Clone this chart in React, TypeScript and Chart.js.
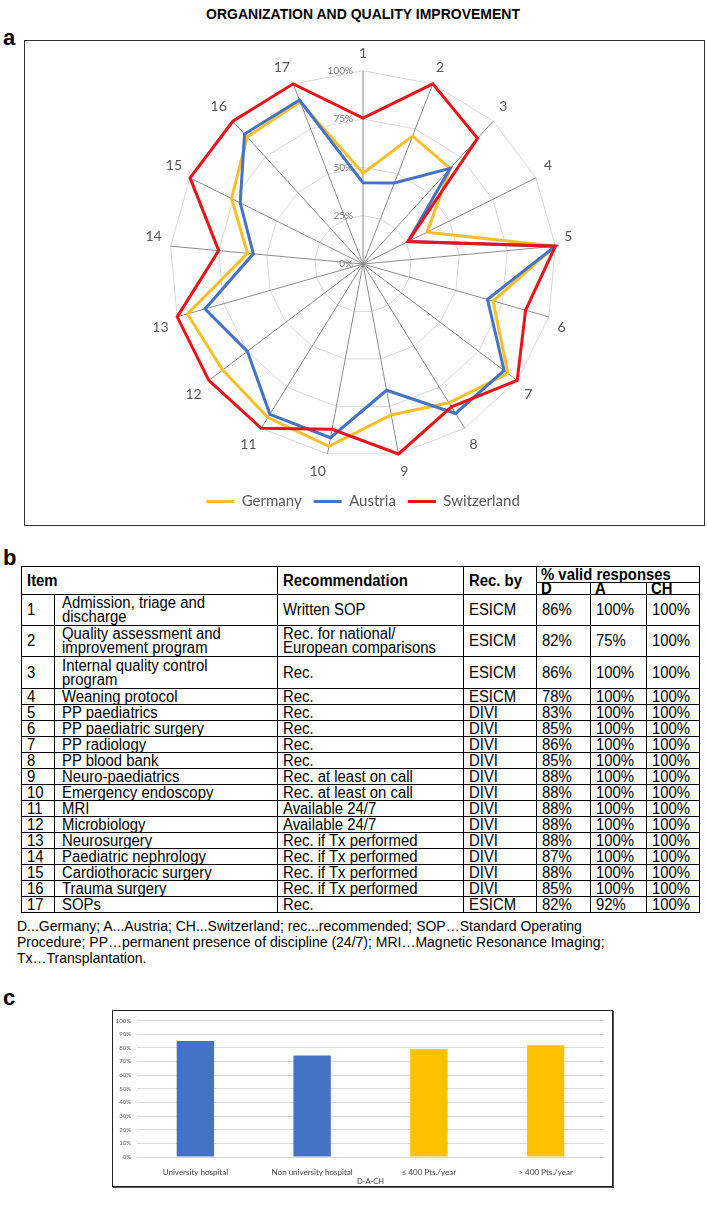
import React, { useEffect, useRef } from "react";
import { Chart, registerables } from "chart.js";

Chart.register(...registerables);

// ---------- Panel a: radar ----------
const axisLabels = ["1", "2", "3", "4", "5", "6", "7", "8", "9", "10", "11", "12", "13", "14", "15", "16", "17"];
const germany = [47, 71, 67, 37, 100, 70, 94, 84.5, 79.5, 96, 93.5, 91, 94.5, 60, 76, 89, 90];
const austria = [42, 45, 67, 26, 100, 67, 91.5, 91, 66.5, 91.5, 91.5, 75, 85, 57, 71, 91, 91];
const switzerland = [75.5, 100, 88, 26, 100, 87.5, 100, 87, 100, 87, 100, 100, 100, 75, 100, 100, 100];
const radarTicks = [0, 25, 50, 75, 100];

// ---------- Panel b: table ----------
const tableNums = ["1", "2", "3", "4", "5", "6", "7", "8", "9", "10", "11", "12", "13", "14", "15", "16", "17"];
const tableItems = [
  "Admission, triage and\ndischarge",
  "Quality assessment and\nimprovement program",
  "Internal quality control\nprogram",
  "Weaning protocol",
  "PP paediatrics",
  "PP paediatric surgery",
  "PP radiology",
  "PP blood bank",
  "Neuro-paediatrics",
  "Emergency endoscopy",
  "MRI",
  "Microbiology",
  "Neurosurgery",
  "Paediatric nephrology",
  "Cardiothoracic surgery",
  "Trauma surgery",
  "SOPs",
];
const tableRecs = [
  "Written SOP",
  "Rec. for national/\nEuropean comparisons",
  "Rec.",
  "Rec.",
  "Rec.",
  "Rec.",
  "Rec.",
  "Rec.",
  "Rec. at least on call",
  "Rec. at least on call",
  "Available 24/7",
  "Available 24/7",
  "Rec. if Tx performed",
  "Rec. if Tx performed",
  "Rec. if Tx performed",
  "Rec. if Tx performed",
  "Rec.",
];
const tableBy = ["ESICM", "ESICM", "ESICM", "ESICM", "DIVI", "DIVI", "DIVI", "DIVI", "DIVI", "DIVI", "DIVI", "DIVI", "DIVI", "DIVI", "DIVI", "DIVI", "ESICM"];
const tableD = ["86%", "82%", "86%", "78%", "83%", "85%", "86%", "85%", "88%", "88%", "88%", "88%", "88%", "87%", "88%", "85%", "82%"];
const tableA = ["100%", "75%", "100%", "100%", "100%", "100%", "100%", "100%", "100%", "100%", "100%", "100%", "100%", "100%", "100%", "100%", "92%"];
const tableCH = ["100%", "100%", "100%", "100%", "100%", "100%", "100%", "100%", "100%", "100%", "100%", "100%", "100%", "100%", "100%", "100%", "100%"];
const footnoteLines = [
  "D...Germany; A...Austria; CH...Switzerland; rec...recommended; SOP\u2026Standard Operating",
  "Procedure; PP\u2026permanent presence of discipline (24/7); MRI\u2026Magnetic Resonance Imaging;",
  "Tx\u2026Transplantation.",
];

// ---------- Panel c: bars ----------
const barCategories = ["University hospital", "Non university hospital", "\u2264 400 Pts./year", "> 400 Pts./year"];
const barValues = [85, 74.5, 79, 82];
const barColors = ["#4472C4", "#4472C4", "#FFC000", "#FFC000"];
const barTitle = "D-A-CH";

const radarTickPlugin = {
  id: "radarTickLabels",
  beforeDatasetsDraw(chart: any) {
    const scale = chart.scales.r;
    const ctx = chart.ctx;
    ctx.save();
    ctx.font = "10px Lato";
    ctx.fillStyle = "#7f7f7f";
    ctx.textAlign = "right";
    ctx.textBaseline = "middle";
    radarTicks.forEach((v) => {
      const d = scale.getDistanceFromCenterForValue(v);
      ctx.fillText(v + "%", scale.xCenter - 10, scale.yCenter - d);
    });
    ctx.restore();
  },
};

function RadarChart() {
  const ref = useRef<HTMLCanvasElement>(null);
  useEffect(() => {
    const chart = new Chart(ref.current as HTMLCanvasElement, {
      type: "radar",
      data: {
        labels: axisLabels,
        datasets: [
          { label: "Germany", data: germany, borderColor: "#F9BE2A", backgroundColor: "#F9BE2A", borderWidth: 3, pointRadius: 0, fill: false, order: 3 },
          { label: "Austria", data: austria, borderColor: "#4472C4", backgroundColor: "#4472C4", borderWidth: 3, pointRadius: 0, fill: false, order: 2 },
          { label: "Switzerland", data: switzerland, borderColor: "#E8141C", backgroundColor: "#E8141C", borderWidth: 3, pointRadius: 0, fill: false, order: 1 },
        ],
      },
      options: {
        responsive: false,
        animation: false,
        layout: { padding: { top: 3, right: 3, bottom: 6, left: 0 } },
        elements: { line: { tension: 0, borderJoinStyle: "miter" } },
        plugins: {
          tooltip: { enabled: false },
          legend: {
            position: "bottom",
            labels: {
              usePointStyle: true,
              pointStyle: "line",
              pointStyleWidth: 28,
              color: "#595959",
              font: { family: "Lato", size: 15 },
              padding: 12,
              sort: (a: any, b: any) => a.datasetIndex - b.datasetIndex,
            },
          },
        },
        scales: {
          r: {
            min: 0,
            max: 100,
            ticks: { display: false, stepSize: 25 },
            grid: { color: "#d9d9d9", lineWidth: 1 },
            angleLines: { color: "#8c8c8c", lineWidth: 1 },
            pointLabels: { font: { family: "Lato", size: 14 }, color: "#595959", padding: 9 },
          },
        },
      },
      plugins: [radarTickPlugin],
    } as any);
    return () => chart.destroy();
  }, []);
  return (
    <canvas
      ref={ref}
      width={679}
      height={484}
      style={{ position: "absolute", left: 25, top: 41, width: 679, height: 484 }}
    />
  );
}

function BarChart() {
  const ref = useRef<HTMLCanvasElement>(null);
  useEffect(() => {
    const chart = new Chart(ref.current as HTMLCanvasElement, {
      type: "bar",
      data: {
        labels: barCategories,
        datasets: [
          { data: barValues, backgroundColor: barColors, barPercentage: 0.32, categoryPercentage: 1 },
        ],
      },
      options: {
        responsive: false,
        animation: false,
        layout: { padding: { top: 7, right: 8, bottom: 0, left: 0 } },
        plugins: { legend: { display: false }, tooltip: { enabled: false } },
        scales: {
          x: {
            grid: { display: false },
            border: { display: true, color: "#d9d9d9" },
            ticks: { font: { family: "Lato", size: 8 }, color: "#404040", padding: 3 },
            title: { display: true, text: barTitle, font: { family: "Lato", size: 7.5 }, color: "#404040", padding: { top: 2, bottom: 0 } },
            afterFit: (s: any) => {
              s.height = 29;
            },
          },
          y: {
            min: 0,
            max: 100,
            ticks: {
              stepSize: 10,
              callback: (v: any) => v + "%",
              font: { family: "Lato", size: 6 },
              color: "#595959",
              padding: 6,
            },
            grid: { color: "#d9d9d9", drawTicks: false },
            border: { display: false },
            afterFit: (s: any) => {
              s.width = 24;
            },
          },
        },
      },
    } as any);
    return () => chart.destroy();
  }, []);
  return (
    <canvas
      ref={ref}
      width={499}
      height={175}
      style={{ position: "absolute", left: 113, top: 1011, width: 499, height: 175 }}
    />
  );
}

const colX = [21, 54, 277, 463, 536, 590, 646, 699];
const headerTop = 566;
const headerMid = 582;
const headerBottom = 594;
const rowHeights = [31, 31, 32, 16, 16, 16, 16, 16, 16, 16, 16, 16, 16, 16, 16, 16, 16];

const sans = "'Liberation Sans', Arial, sans-serif";

function Table() {
  const rowY: number[] = [headerBottom];
  rowHeights.forEach((h, i) => rowY.push(rowY[i] + h));
  const bottom = rowY[rowY.length - 1];
  const lines: React.ReactNode[] = [];
  const hline = (x1: number, x2: number, y: number, k: string) =>
    lines.push(<div key={k} style={{ position: "absolute", left: x1, top: y, width: x2 - x1 + 1, height: 1, background: "#000" }} />);
  const vline = (x: number, y1: number, y2: number, k: string) =>
    lines.push(<div key={k} style={{ position: "absolute", left: x, top: y1, width: 1, height: y2 - y1 + 1, background: "#000" }} />);
  hline(colX[0], colX[7], headerTop, "ht");
  hline(colX[4], colX[7], headerMid, "hm");
  rowY.forEach((y, i) => hline(colX[0], colX[7], y, "h" + i));
  vline(colX[0], headerTop, bottom, "v0");
  vline(colX[1], headerBottom, bottom, "v1");
  vline(colX[2], headerTop, bottom, "v2");
  vline(colX[3], headerTop, bottom, "v3");
  vline(colX[4], headerTop, bottom, "v4");
  vline(colX[5], headerMid, bottom, "v5");
  vline(colX[6], headerMid, bottom, "v6");
  vline(colX[7], headerTop, bottom, "v7");

  const cell = (x1: number, x2: number, y1: number, y2: number, text: string, bold: boolean, k: string) => (
    <div
      key={k}
      style={{
        position: "absolute",
        left: x1 + 6,
        top: y1 + 1,
        width: x2 - x1 - 7,
        height: y2 - y1 - 1,
        display: "flex",
        alignItems: "center",
        whiteSpace: "pre",
        color: "#000",
      }}
    >
      <span
        style={{
          display: "inline-block",
          transform: "scaleX(0.93)",
          transformOrigin: "left center",
          fontFamily: sans,
          fontSize: 16,
          lineHeight: "14px",
          fontWeight: bold ? "bold" : "normal",
        }}
      >
        {text}
      </span>
    </div>
  );

  const cells: React.ReactNode[] = [];
  cells.push(cell(colX[0], colX[2], headerTop, headerBottom, "Item", true, "hi"));
  cells.push(cell(colX[2], colX[3], headerTop, headerBottom, "Recommendation", true, "hr"));
  cells.push(cell(colX[3], colX[4], headerTop, headerBottom, "Rec. by", true, "hb"));
  cells.push(cell(colX[4] - 1, colX[7], headerTop, headerMid, "% valid responses", true, "hv"));
  cells.push(cell(colX[4] - 1, colX[5], headerMid, headerBottom, "D", true, "hd"));
  cells.push(cell(colX[5] - 1, colX[6], headerMid, headerBottom, "A", true, "ha"));
  cells.push(cell(colX[6] - 1, colX[7], headerMid, headerBottom, "CH", true, "hc"));
  tableNums.forEach((n, i) => {
    const y1 = rowY[i];
    const y2 = rowY[i + 1];
    cells.push(cell(colX[0], colX[1], y1, y2, n, false, "n" + i));
    cells.push(cell(colX[1] + 2, colX[2], y1, y2, tableItems[i], false, "i" + i));
    cells.push(cell(colX[2], colX[3], y1, y2, tableRecs[i], false, "r" + i));
    cells.push(cell(colX[3], colX[4], y1, y2, tableBy[i], false, "b" + i));
    cells.push(cell(colX[4], colX[5], y1, y2, tableD[i], false, "d" + i));
    cells.push(cell(colX[5], colX[6], y1, y2, tableA[i], false, "a" + i));
    cells.push(cell(colX[6], colX[7], y1, y2, tableCH[i], false, "c" + i));
  });
  return (
    <>
      {lines}
      {cells}
      <div
        style={{
          position: "absolute",
          left: 17,
          top: bottom + 6,
          width: 690,
          fontFamily: sans,
          fontSize: 14,
          lineHeight: "16px",
          whiteSpace: "pre",
          color: "#000",
        }}
      >
        {footnoteLines.join("\n")}
      </div>
    </>
  );
}

const panelLetter = (t: string, top: number) => (
  <div
    style={{
      position: "absolute",
      left: 3,
      top,
      fontFamily: sans,
      fontWeight: "bold",
      fontSize: 22,
      lineHeight: "22px",
    }}
  >
    {t}
  </div>
);

export default function App() {
  return (
    <div style={{ position: "absolute", left: 0, top: 0, width: 707, height: 1210, background: "#fff", overflow: "hidden" }}>
      <div
        style={{
          position: "absolute",
          left: 0,
          top: 7,
          width: 726,
          textAlign: "center",
          fontFamily: sans,
          fontWeight: "bold",
          fontSize: 14,
          lineHeight: "14px",
        }}
      >
        ORGANIZATION AND QUALITY IMPROVEMENT
      </div>
      {panelLetter("a", 27)}
      <div style={{ position: "absolute", left: 24, top: 40, width: 681, height: 486, boxSizing: "border-box", border: "1px solid #333" }} />
      <RadarChart />
      {panelLetter("b", 547)}
      <Table />
      {panelLetter("c", 987)}
      <div
        style={{
          position: "absolute",
          left: 112,
          top: 1010,
          width: 501,
          height: 177,
          boxSizing: "border-box",
          border: "1px solid #222",
          boxShadow: "1px 1px 0 #555",
        }}
      />
      <BarChart />
    </div>
  );
}
